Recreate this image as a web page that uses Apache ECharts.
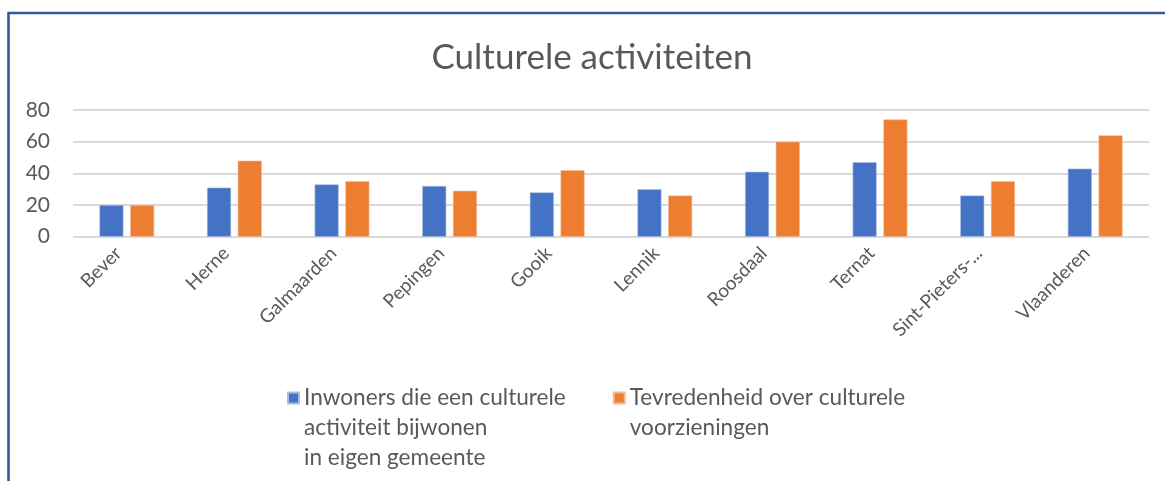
<!DOCTYPE html>
<html>
<head>
<meta charset="utf-8">
<title>Culturele activiteiten</title>
<script src="https://cdn.jsdelivr.net/npm/echarts@6/dist/echarts.min.js"></script>
<style>
  html, body { margin: 0; padding: 0; background: #ffffff; }
  #chart { width: 1165px; height: 481px; }
</style>
</head>
<body>
<div id="chart"></div>
<script>
// Gemeenten (plus Vlaanderen als referentie)
const gemeenten = ['Bever', 'Herne', 'Galmaarden', 'Pepingen', 'Gooik', 'Lennik', 'Roosdaal', 'Ternat', 'Sint-Pieters-Leeuw', 'Vlaanderen'];

// Percentages per gemeente
const bijwonen = [20, 31, 33, 32, 28, 30, 41, 47, 26, 43];
const tevredenheid = [20, 48, 35, 29, 42, 26, 60, 74, 35, 64];

const reeksNamen = [
  'Inwoners die een culturele\nactiviteit bijwonen\nin eigen gemeente',
  'Tevredenheid over culturele\nvoorzieningen'
];

const yTicks = { min: 0, max: 80, interval: 20 };

const FONT = 'Lato';
const GREY = '#595959';

const chart = echarts.init(document.getElementById('chart'), null, { renderer: 'canvas' });

// Legend text is vertically centred on its marker; pad the block with empty
// lines above so the marker sits beside the first line.
function legendLabel(naam) {
  const regels = naam.split('\n').length;
  return '\n'.repeat(regels - 1) + naam;
}

chart.setOption({
  backgroundColor: '#ffffff',
  animation: false,
  title: {
    text: 'Culturele activiteiten',
    left: 587,
    textAlign: 'center',
    top: 35,
    textStyle: { fontFamily: FONT, fontSize: 35, fontWeight: 'normal', color: GREY }
  },
  grid: {
    left: 73, right: 16, top: 110, bottom: 244.3,
    containLabel: false,
    outerBoundsMode: 'none'
  },
  legend: {
    left: 287,
    top: 323,
    padding: 0,
    itemGap: 47,
    itemWidth: 11,
    itemHeight: 11,
    icon: 'rect',
    formatter: legendLabel,
    textStyle: { fontFamily: FONT, fontSize: 22.6, color: GREY, lineHeight: 30 },
    data: reeksNamen
  },
  xAxis: {
    type: 'category',
    data: gemeenten,
    axisLine: { show: false },
    axisTick: { show: false },
    axisLabel: {
      rotate: 45,
      interval: 0,
      margin: 5,
      padding: [0, 12, 0, 0],
      fontFamily: FONT,
      fontSize: 19,
      color: GREY,
      formatter: function (naam) {
        return naam.length > 13 ? naam.slice(0, 13) + '...' : naam;
      }
    }
  },
  yAxis: {
    type: 'value',
    min: yTicks.min,
    max: yTicks.max,
    interval: yTicks.interval,
    axisLine: { show: false },
    axisTick: { show: false },
    axisLabel: { margin: 23, fontFamily: FONT, fontSize: 21, color: GREY },
    splitLine: { lineStyle: { color: '#d9d9d9', width: 2 } }
  },
  series: [
    {
      name: reeksNamen[0],
      type: 'bar',
      data: bijwonen,
      barWidth: 24,
      barGap: '28%',
      itemStyle: { color: '#4472C4', borderColor: '#a8bde3', borderWidth: 0.6 }
    },
    {
      name: reeksNamen[1],
      type: 'bar',
      data: tevredenheid,
      barWidth: 24,
      itemStyle: { color: '#ED7D31', borderColor: '#f6b995', borderWidth: 0.6 }
    }
  ],
  graphic: [
    {
      // kader rond de grafiek (links en boven zichtbaar)
      type: 'rect',
      silent: true,
      shape: { x: 8.5, y: 13, width: 1300, height: 600 },
      style: { fill: null, stroke: '#34589c', lineWidth: 2.6 }
    }
  ]
});
</script>
</body>
</html>
